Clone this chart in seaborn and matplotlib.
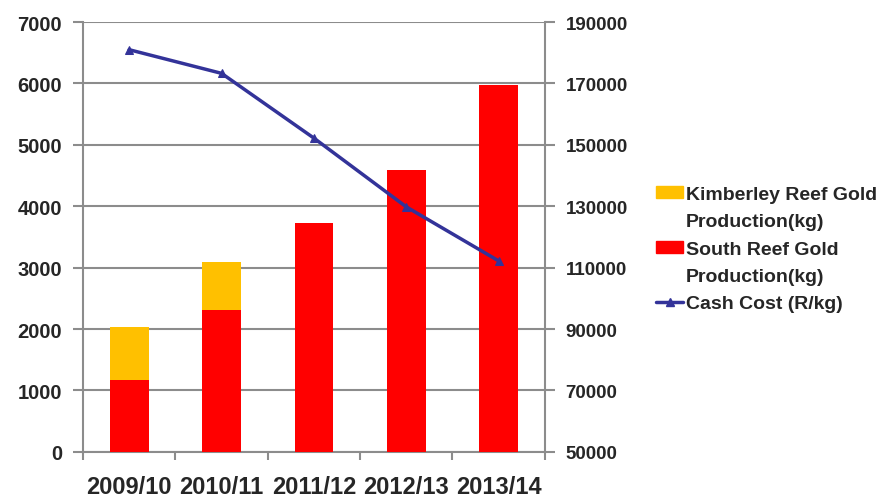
import matplotlib
matplotlib.use('Agg')
import matplotlib.pyplot as plt
import seaborn as sns
import pandas as pd
from matplotlib.patches import Patch
from matplotlib.lines import Line2D
from matplotlib.ticker import FixedLocator

years = ['2009/10', '2010/11', '2011/12', '2012/13', '2013/14']
kimberley = [875, 790, 0, 0, 0]
south_reef = [1165, 2310, 3730, 4595, 5975]
cash_cost = [181000, 173300, 152200, 129800, 112200]

df = pd.DataFrame({'Year': years, 'Kimberley': kimberley, 'South': south_reef, 'Cost': cash_cost})
df['Total'] = df['Kimberley'] + df['South']

sns.set_style('white')
plt.rcParams['font.family'] = ['Liberation Sans', 'DejaVu Sans']
plt.rcParams['font.weight'] = 'bold'

grey = '#8c8c8c'
fig = plt.figure(figsize=(8.83, 5.02), dpi=100)
ax = fig.add_axes([0.094, 0.098, 0.523, 0.856])

# stacked bars: total in orange, south reef in red over it
sns.barplot(data=df, x='Year', y='Total', color='#FFC000', width=0.42, saturation=1,
            linewidth=0, ax=ax, zorder=2)
sns.barplot(data=df, x='Year', y='South', color='#FF0000', width=0.42, saturation=1,
            linewidth=0, ax=ax, zorder=3)

ax.set_ylim(0, 7000)
ax.set_xlim(-0.5, 4.5)
ax.set_yticks(range(0, 7001, 1000))
ax.yaxis.grid(True, color=grey, linewidth=1.5, zorder=0)
ax.set_axisbelow(True)
ax.set_xlabel('')
ax.set_ylabel('')
for s in ['left', 'right', 'bottom']:
    ax.spines[s].set_color(grey)
    ax.spines[s].set_linewidth(1.5)
ax.spines['top'].set_visible(False)
ax.tick_params(axis='y', length=7, width=1.5, color=grey, pad=8, labelsize=14.5, left=True)
ax.tick_params(axis='x', which='major', length=0, pad=17, labelsize=17)
ax.xaxis.set_minor_locator(FixedLocator([-0.5, 0.5, 1.5, 2.5, 3.5, 4.5]))
ax.tick_params(axis='x', which='minor', length=6, width=1.5, color=grey, bottom=True)

ax2 = ax.twinx()
sns.lineplot(data=df, x='Year', y='Cost', color='#333399', linewidth=2.5, marker='^',
             markersize=6, markeredgecolor='#333399', ax=ax2, zorder=5)
ax2.set_ylim(50000, 190000)
ax2.set_yticks(range(50000, 190001, 20000))
ax2.set_ylabel('')
for s in ['left', 'right', 'bottom', 'top']:
    ax2.spines[s].set_visible(False)
ax2.tick_params(axis='y', length=7, width=1.5, color=grey, pad=8, labelsize=13.5, right=True)

# second lines of the labels get their own blank rows so the swatch sits on the first line
blank = Patch(facecolor='none', edgecolor='none')
handles = [Patch(color='#FFC000'), blank, Patch(color='#FF0000'), blank,
           Line2D([], [], color='#333399', linewidth=2.5, marker='^', markersize=6)]
labels = ['Kimberley Reef Gold', 'Production(kg)', 'South Reef Gold', 'Production(kg)',
          'Cash Cost (R/kg)']
fig.legend(handles, labels, loc='upper left', bbox_to_anchor=(0.734, 0.643), frameon=False,
           fontsize=14, handlelength=1.4, handleheight=0.6, handletextpad=0.15,
           labelspacing=0.53, borderaxespad=0)

fig.savefig('out.png', dpi=100)
